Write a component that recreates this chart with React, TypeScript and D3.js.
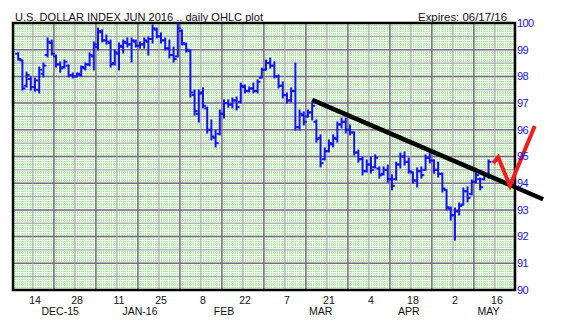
import React from "react";
import * as d3 from "d3";

// ---------- data ----------
const START_DATE = "2015-12-08"; // first trading day shown (weekdays only)

const highs = [
  98.88, 98.61, 98.16, 97.98, 97.94, 98.35, 98.5, 99.44, 99.36, 98.8,
  98.54, 98.61, 98.43, 98.13, 98.13, 98.39, 98.5, 98.88, 99.29, 99.81,
  99.74, 99.55, 99.36, 98.99, 99.25, 99.36, 99.44, 99.44, 99.36, 99.29,
  99.44, 99.48, 99.93, 99.81, 99.63, 99.44, 99.36, 99.1, 100.0, 99.74,
  99.25, 98.99, 97.49, 97.49, 97.57, 96.85, 96.37, 95.99, 96.74, 97.12,
  97.12, 97.19, 97.23, 97.75, 97.68, 97.6, 97.75, 97.87, 98.31, 98.61,
  98.69, 98.54, 98.05, 97.79, 97.38, 97.57, 98.5, 96.74, 96.67, 96.74,
  97.0, 96.37, 95.81, 95.32, 95.62, 95.81, 96.29, 96.44, 96.44, 96.18,
  95.92, 95.24, 94.98, 94.87, 94.98, 95.06, 94.61, 94.61, 94.68, 94.31,
  94.79, 95.13, 95.17, 94.94, 94.42, 94.57, 94.61, 95.06, 95.17, 94.87,
  94.79, 94.38, 93.75, 93.11, 93.07, 93.26, 93.82, 93.86, 94.12, 94.38,
  94.19, 94.38, 94.87,
];
const lows = [
  98.61, 97.49, 97.6, 97.49, 97.45, 97.38, 97.98, 98.73, 98.8, 98.35,
  98.16, 98.31, 97.98, 97.94, 97.98, 98.01, 98.24, 98.39, 98.24, 98.99,
  99.29, 99.21, 98.35, 98.43, 98.24, 98.88, 99.1, 98.54, 99.1, 99.06,
  99.06, 98.8, 99.25, 99.44, 99.25, 98.99, 98.69, 98.54, 98.73, 99.18,
  98.91, 97.23, 96.55, 96.29, 96.82, 95.88, 95.62, 95.36, 95.81, 96.44,
  96.85, 96.82, 96.74, 97.0, 97.38, 97.42, 97.38, 97.38, 97.94, 98.24,
  98.31, 97.94, 97.57, 97.19, 97.0, 97.04, 95.99, 95.99, 96.18, 96.48,
  96.37, 95.54, 94.61, 94.87, 95.17, 95.36, 95.54, 96.07, 95.88, 95.81,
  95.06, 94.79, 94.31, 94.42, 94.38, 94.57, 94.19, 94.31, 94.04, 93.75,
  94.12, 94.57, 94.68, 94.38, 94.01, 93.86, 94.19, 94.49, 94.76, 94.38,
  94.23, 93.67, 93.0, 92.62, 91.87, 92.81, 93.18, 93.3, 93.56, 94.01,
  93.75, 94.12, 94.19,
];
const opens = [
  98.85, 98.6, 97.65, 97.9, 97.6, 97.5, 98.1, 98.8, 99.25, 98.75,
  98.45, 98.35, 98.4, 98.05, 98.0, 98.05, 98.3, 98.45, 98.75, 99.1,
  99.65, 99.35, 99.25, 98.5, 98.85, 99.1, 99.25, 99.2, 99.3, 99.15,
  99.2, 99.3, 99.4, 99.75, 99.5, 99.35, 99.05, 98.8, 98.75, 99.7,
  99.2, 98.95, 97.3, 96.6, 97.4, 96.8, 96.0, 95.7, 95.85, 96.6,
  97.0, 96.95, 97.1, 97.05, 97.6, 97.45, 97.55, 97.45, 97.95, 98.25,
  98.5, 98.4, 98.0, 97.65, 97.3, 97.1, 97.45, 96.1, 96.55, 96.5,
  96.65, 96.3, 95.7, 94.9, 95.2, 95.45, 95.65, 96.2, 96.3, 96.0,
  95.9, 95.15, 94.9, 94.45, 94.7, 94.6, 94.55, 94.35, 94.5, 94.15,
  94.15, 94.7, 95.0, 94.8, 94.4, 94.1, 94.45, 94.5, 94.95, 94.85,
  94.5, 94.35, 93.75, 93.05, 92.8, 92.95, 93.2, 93.7, 93.6, 94.05,
  94.15, 94.15, 94.3,
];
const closes = [
  98.65, 97.55, 98.05, 97.6, 97.85, 98.25, 98.4, 99.3, 98.85, 98.45,
  98.3, 98.55, 98.05, 98.0, 98.1, 98.35, 98.45, 98.8, 99.2, 99.7,
  99.35, 99.3, 98.45, 98.9, 99.15, 99.3, 99.2, 99.35, 99.15, 99.2,
  99.35, 99.4, 99.8, 99.5, 99.35, 99.05, 98.8, 98.65, 99.8, 99.25,
  99.0, 97.4, 96.7, 97.35, 96.9, 96.0, 95.75, 95.5, 96.6, 97.0,
  96.95, 97.1, 96.85, 97.65, 97.45, 97.55, 97.45, 97.8, 98.25, 98.5,
  98.4, 98.0, 97.65, 97.3, 97.1, 97.45, 96.1, 96.6, 96.3, 96.65,
  96.9, 95.65, 94.75, 95.2, 95.5, 95.7, 96.2, 96.3, 96.0, 95.9,
  95.15, 94.9, 94.45, 94.7, 94.5, 94.95, 94.3, 94.5, 94.15, 93.9,
  94.7, 95.0, 94.8, 94.45, 94.1, 94.45, 94.3, 94.95, 94.85, 94.5,
  94.35, 93.8, 93.1, 92.8, 92.95, 93.15, 93.7, 93.45, 94.05, 94.3,
  93.85, 94.3, 94.8,
];

const dayTickDates = [
  "2015-12-14", "2015-12-28", "2016-01-11", "2016-01-25", "2016-02-08", "2016-02-22",
  "2016-03-07", "2016-03-21", "2016-04-04", "2016-04-18", "2016-05-02", "2016-05-16",
];
const dayTickLabels = ["14", "28", "11", "25", "8", "22", "7", "21", "4", "18", "2", "16"];
const monthLabelDates = ["2015-12-22", "2016-01-18", "2016-02-15", "2016-03-17", "2016-04-15", "2016-05-12"];
const monthLabels = ["DEC-15", "JAN-16", "FEB", "MAR", "APR", "MAY"];
const yTicks = [90, 91, 92, 93, 94, 95, 96, 97, 98, 99, 100];

// hand-drawn trend line (trading-day offset, value)
const trendDays = [70, 125];
const trendValues = [97.12, 93.4];
// hand-drawn red check mark
const checkDays = [113.1, 114.3, 117.1, 123.0];
const checkValues = [94.75, 94.97, 93.9, 96.14];

const TITLE = "U.S. DOLLAR INDEX JUN 2016 .. daily OHLC plot";
const EXPIRES = "Expires: 06/17/16";

// ---------- helpers ----------
function parse(s: string) {
  const [y, m, d] = s.split("-").map(Number);
  return new Date(Date.UTC(y, m - 1, d));
}
function tradingIndex(s: string) {
  const start = parse(START_DATE);
  const end = parse(s);
  let n = 0;
  const cur = new Date(start.getTime());
  while (cur < end) {
    cur.setUTCDate(cur.getUTCDate() + 1);
    const wd = cur.getUTCDay();
    if (wd !== 0 && wd !== 6) n++;
  }
  return n;
}

const W = 568;
const H = 334;
const L = 13, R = 515, T = 23, B = 290;

export default function App() {
  const x = d3.scaleLinear().domain([-1.24, 118.3]).range([L, R]);
  const y = d3.scaleLinear().domain([90, 100]).range([B, T]);

  const fineV = d3.range(-1.5, 118.3, 0.625).filter((d) => d > -1.24);
  const fineH = d3.range(90, 100, 0.1);
  const weekLines = d3.range(3.5, 118.3, 5);
  const halfLines = d3.range(90.5, 100, 1);

  const line = d3
    .line<[number, number]>()
    .x((d) => x(d[0]))
    .y((d) => y(d[1]));

  const trend = line(trendDays.map((d, i) => [d, trendValues[i]] as [number, number]));
  const check = line(checkDays.map((d, i) => [d, checkValues[i]] as [number, number]));

  const font = "'Liberation Sans', Arial, sans-serif";
  const blue = "#1414f0";

  return (
    <svg
      width={W}
      height={H}
      style={{ position: "absolute", left: 0, top: 0, background: "#fff" }}
    >
      <rect x={L} y={T} width={R - L} height={B - T} fill="#f2fbef" />
      {/* fine green grid */}
      {fineV.map((d, i) => (
        <line key={"fv" + i} x1={x(d)} x2={x(d)} y1={T} y2={B} stroke="#a6e29a" strokeWidth={1} strokeDasharray="1,1" />
      ))}
      {fineH.map((d, i) => (
        <line key={"fh" + i} x1={L} x2={R} y1={y(d)} y2={y(d)} stroke="#a6e29a" strokeWidth={1} strokeDasharray="1,1" />
      ))}
      {/* half-unit horizontal lines */}
      {halfLines.map((d, i) => (
        <line key={"hl" + i} x1={L} x2={R} y1={y(d)} y2={y(d)} stroke="#aa9fb3" strokeWidth={1} />
      ))}
      {/* unit horizontal lines */}
      {yTicks.map((d, i) => (
        <line key={"ul" + i} x1={L} x2={R} y1={y(d)} y2={y(d)} stroke="#7a6a88" strokeWidth={1.5} />
      ))}
      {/* weekly vertical lines */}
      {weekLines.map((d, i) => (
        <line
          key={"wl" + i}
          x1={x(d)}
          x2={x(d)}
          y1={T}
          y2={B}
          stroke={i % 2 === 0 ? "#aa9fb3" : "#7a6a88"}
          strokeWidth={i % 2 === 0 ? 1 : 1.5}
        />
      ))}
      {/* frame */}
      <rect x={L} y={T} width={R - L} height={B - T} fill="none" stroke="#000" strokeWidth={2.5} />

      {/* OHLC bars */}
      {highs.map((h, i) => {
        const cx = x(i);
        return (
          <g key={"b" + i} stroke={blue} strokeWidth={2}>
            <line x1={cx} x2={cx} y1={y(h) - 0.5} y2={y(lows[i]) + 0.5} />
            <line x1={cx - 3} x2={cx} y1={y(opens[i])} y2={y(opens[i])} />
            <line x1={cx} x2={cx + 3} y1={y(closes[i])} y2={y(closes[i])} />
          </g>
        );
      })}

      {/* trend line and check mark */}
      <path d={trend || ""} stroke="#000" strokeWidth={4.5} fill="none" strokeLinecap="butt" />
      <path d={check || ""} stroke="#f01e1e" strokeWidth={4} fill="none" strokeLinejoin="miter" />

      {/* right axis labels */}
      {yTicks.map((d) => (
        <text
          key={"yt" + d}
          x={517}
          y={y(d)}
          dy="0.35em"
          fill={blue}
          fontFamily={font}
          fontSize={11}
          letterSpacing={-0.6}
        >
          {d}
        </text>
      ))}

      {/* bottom axis labels */}
      {dayTickDates.map((s, i) => (
        <text
          key={"dt" + i}
          x={x(tradingIndex(s))}
          y={304}
          textAnchor="middle"
          fontFamily={font}
          fontSize={10.5}
          fill="#111"
        >
          {dayTickLabels[i]}
        </text>
      ))}
      {monthLabelDates.map((s, i) => (
        <text
          key={"ml" + i}
          x={x(tradingIndex(s))}
          y={314.5}
          textAnchor="middle"
          fontFamily={font}
          fontSize={10.5}
          fill="#111"
        >
          {monthLabels[i]}
        </text>
      ))}

      {/* titles */}
      <text x={15} y={20.5} fontFamily={font} fontSize={11} fill="#111" textLength={248} lengthAdjust="spacingAndGlyphs">
        {TITLE}
      </text>
      <text x={418} y={20.5} fontFamily={font} fontSize={11} fill="#111" textLength={89} lengthAdjust="spacingAndGlyphs">
        {EXPIRES}
      </text>
    </svg>
  );
}
